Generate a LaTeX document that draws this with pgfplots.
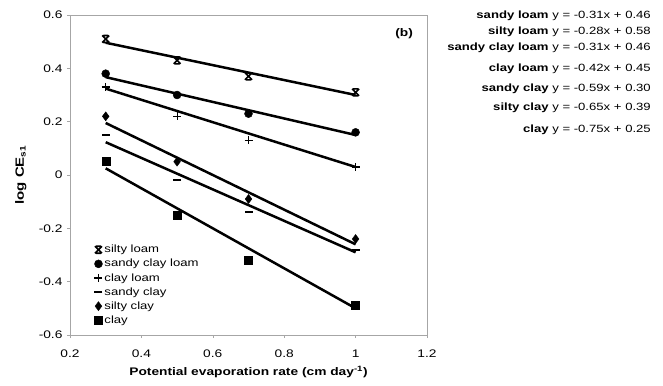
\documentclass[border=0pt]{standalone}
\usepackage{pgfplots}
\pgfplotsset{compat=1.18}
\usepackage{fontspec}
\setmainfont{Liberation Sans}[FakeStretch=1.25]
\pgfdeclareplotmark{xbar}{%
 \pgfpathmoveto{\pgfpoint{-\pgfplotmarksize}{-\pgfplotmarksize}}\pgfpathlineto{\pgfpoint{\pgfplotmarksize}{\pgfplotmarksize}}%
 \pgfpathmoveto{\pgfpoint{-\pgfplotmarksize}{\pgfplotmarksize}}\pgfpathlineto{\pgfpoint{\pgfplotmarksize}{-\pgfplotmarksize}}%
 \pgfpathmoveto{\pgfpoint{-0.7\pgfplotmarksize}{\pgfplotmarksize}}\pgfpathlineto{\pgfpoint{0.7\pgfplotmarksize}{\pgfplotmarksize}}%
 \pgfpathmoveto{\pgfpoint{-0.7\pgfplotmarksize}{-\pgfplotmarksize}}\pgfpathlineto{\pgfpoint{0.7\pgfplotmarksize}{-\pgfplotmarksize}}%
 \pgfusepathqstroke}
\begin{document}
\begin{tikzpicture}[x=1pt,y=1pt]
\path[use as bounding box] (-70,-50) rectangle (593,335);
\begin{axis}[
  anchor=south west,
  scale only axis, width=357pt, height=320pt,
  xmin=0.2, xmax=1.2, ymin=-0.6, ymax=0.6,
  xtick={0.2,0.4,...,1.2}, ytick={-0.6,-0.4,...,0.6},
  xticklabels={0.2,0.4,0.6,0.8,1,1.2},
  yticklabels={-0.6,-0.4,-0.2,0,0.2,0.4,0.6},
  /pgf/number format/assume math mode=true,
  tick label style={font=\fontsize{11}{13}\selectfont},
  xticklabel style={yshift=-8pt},
  yticklabel style={xshift=-1pt},
  axis line style={gray!70, line width=0.6pt},
  tick style={gray!70, line width=0.6pt},
  tick align=outside, major tick length=3pt,
  xtick pos=bottom, ytick pos=left,
  xlabel={\textbf{Potential evaporation rate (cm day\textsuperscript{-1})}},
  ylabel={\textbf{log CE\textsubscript{s1}}},
  every axis x label/.style={at={(axis description cs:0.5,-0.116)}, anchor=center, font=\fontsize{11}{13}\selectfont},
  every axis y label/.style={at={(axis description cs:-0.138,0.5)}, rotate=90, anchor=center, font=\fontsize{12}{14}\selectfont},
  legend style={draw=none, fill=none, at={(axis description cs:0.068,0.2875)}, anchor=north west,
    font=\fontsize{10.5}{12}\selectfont, inner sep=0pt, row sep=1pt,
    cells={anchor=west}, /tikz/every even column/.append style={column sep=2pt}},
  legend image code/.code={\draw[#1, mark repeat=2, mark phase=2] plot coordinates {(0pt,0pt)(4pt,0pt)(8pt,0pt)};},
  legend cell align=left,
]
% fitted lines
\addplot[black, line width=2.5pt, forget plot] coordinates {(0.3,0.496) (1.0,0.30)};
\addplot[black, line width=2.5pt, forget plot] coordinates {(0.3,0.367) (1.0,0.15)};
\addplot[black, line width=2.5pt, forget plot] coordinates {(0.3,0.324) (1.0,0.03)};
\addplot[black, line width=2.5pt, forget plot] coordinates {(0.3,0.123) (1.0,-0.29)};
\addplot[black, line width=2.5pt, forget plot] coordinates {(0.3,0.195) (1.0,-0.26)};
\addplot[black, line width=2.5pt, forget plot] coordinates {(0.3,0.025) (1.0,-0.50)};
% data
\addplot[only marks, mark=xbar, mark size=3.5pt, line width=1.6pt, black] coordinates {(0.3,0.51) (0.5,0.43) (0.7,0.37) (1.0,0.31)};
\addlegendentry{silty loam}
\addplot[only marks, mark=*, mark size=4pt, black] coordinates {(0.3,0.38) (0.5,0.30) (0.7,0.23) (1.0,0.16)};
\addlegendentry{sandy clay loam}
\addplot[only marks, mark=+, mark size=4pt, line width=1.2pt, black] coordinates {(0.3,0.33) (0.5,0.22) (0.7,0.13) (1.0,0.03)};
\addlegendentry{clay loam}
\addplot[only marks, mark=-, mark size=4pt, line width=2pt, black] coordinates {(0.3,0.15) (0.5,-0.02) (0.7,-0.14) (1.0,-0.28)};
\addlegendentry{sandy clay}
\addplot[only marks, mark=diamond*, mark size=4.5pt, black] coordinates {(0.3,0.22) (0.5,0.05) (0.7,-0.09) (1.0,-0.24)};
\addlegendentry{silty clay}
\addplot[only marks, mark=square*, mark size=4pt, black] coordinates {(0.3,0.05) (0.5,-0.15) (0.7,-0.32) (1.0,-0.49)};
\addlegendentry{clay}
\node[font=\bfseries\fontsize{11}{13}\selectfont] at (axis cs:1.136,0.53) {(b)};
\end{axis}
\begin{scope}[every node/.style={anchor=east, font=\fontsize{10.5}{12}\selectfont, inner sep=0pt}]
\node at (581,319) {\textbf{sandy loam} y = -0.31x + 0.46};
\node at (581,303) {\textbf{silty loam} y = -0.28x + 0.58};
\node at (581,287) {\textbf{sandy clay loam} y = -0.31x + 0.46};
\node at (581,266) {\textbf{clay loam} y = -0.42x + 0.45};
\node at (581,246) {\textbf{sandy clay} y = -0.59x + 0.30};
\node at (581,227) {\textbf{silty clay} y = -0.65x + 0.39};
\node at (581,205) {\textbf{clay} y = -0.75x + 0.25};
\end{scope}
\end{tikzpicture}
\end{document}
